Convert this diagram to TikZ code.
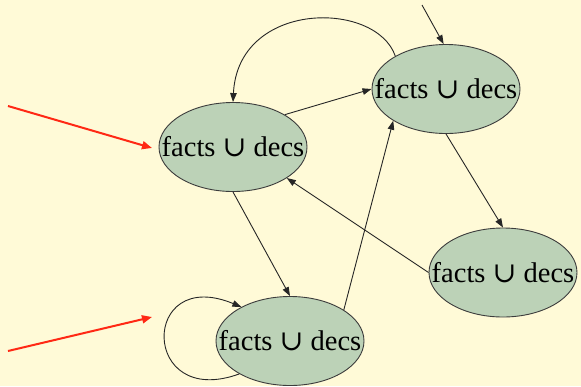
\documentclass[tikz,border=0pt]{standalone}
\usepackage{fontspec}
\setmainfont{Liberation Serif}
\newfontfamily\unionfont{DejaVu Serif}
\usetikzlibrary{arrows.meta,shapes.geometric}
\definecolor{paper}{RGB}{255,250,215}
\definecolor{sage}{RGB}{188,210,183}
\definecolor{rim}{RGB}{60,60,60}
\definecolor{flame}{RGB}{255,40,20}
\tikzset{
  state/.style={ellipse, draw=rim, line width=0.9pt, fill=sage,
    minimum width=148pt, minimum height=89pt, inner sep=0pt,
    font=\fontsize{28.5}{30}\selectfont},
  link/.style={draw=black!85, line width=0.9pt,
    -{Triangle[length=9pt,width=6.5pt]}},
  entry/.style={draw=flame, line width=2pt,
    -{Triangle[length=10pt,width=8pt]}}
}
% label set in a zero-size box so the ellipse keeps its own size
\newcommand{\fd}{\makebox[0pt]{\smash{\raisebox{-9.5pt}{facts {\unionfont ∪} decs}}}}
\begin{document}
\begin{tikzpicture}[x=1pt,y=-1pt]
  \fill[paper] (0,0) rectangle (581,386);
  \useasboundingbox (0,0) rectangle (581,386);

  % states
  \node[state] (A) at (233,147) {\fd};
  \node[state] (B) at (446,89) {\fd};
  \node[state] (C) at (290,341) {\fd};
  \node[state] (D) at (503,272.5) {\fd};

  % loose ends of the incoming arrows
  \coordinate (topin) at (422,5);
  \coordinate (r1s) at (8,106);
  \coordinate (r1e) at (152,148);
  \coordinate (r2s) at (8,351);
  \coordinate (r2e) at (152,317);

  % transitions
  \draw[link] (topin) -- (B.93);
  \draw[link] (B.147) .. controls (376,0) and (238,0) .. (A.north);
  \draw[link] (A.32) -- (B.180);
  \draw[link] (B.south) -- (D.north);
  \draw[link] (D.west) -- (A.-30);
  \draw[link] (A.south) -- (C.north);
  \draw[link] (C.30) -- (B.-149);
  \draw[link] (C.213) .. controls (140,410) and (140,265) .. (C.145);

  % entry arrows
  \draw[entry] (r1s) -- (r1e);
  \draw[entry] (r2s) -- (r2e);
\end{tikzpicture}
\end{document}
